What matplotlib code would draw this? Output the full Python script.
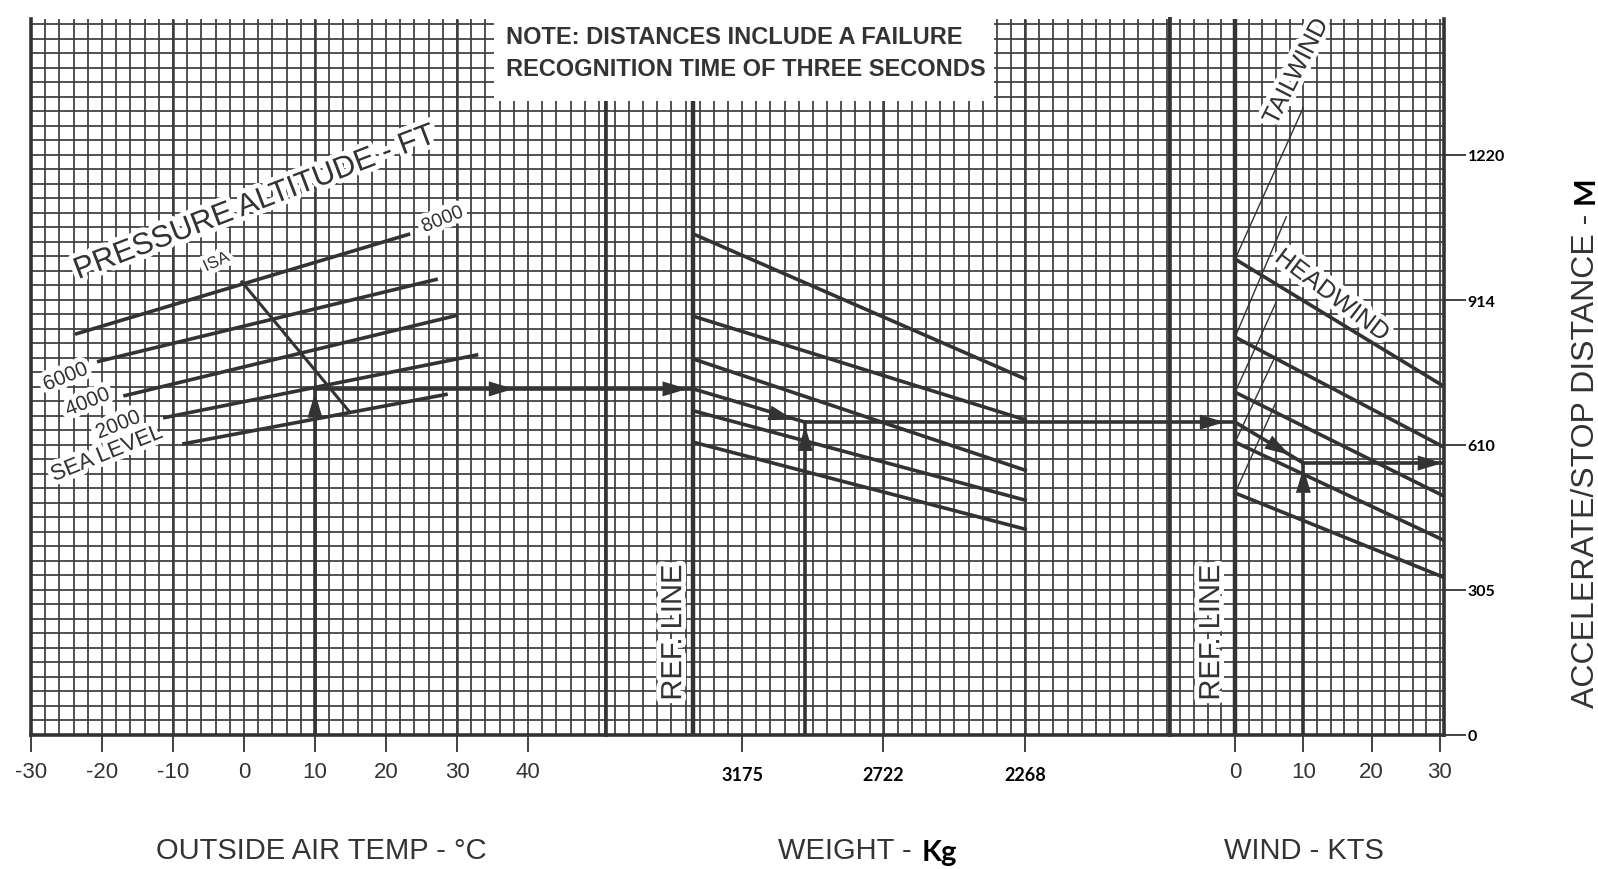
import numpy as np
import matplotlib
matplotlib.use('Agg')
import matplotlib.pyplot as plt
import matplotlib.patheffects as pe
from matplotlib.patches import Rectangle
from matplotlib import font_manager as fm

# ---- chart values ----
temp_ticks = [-30, -20, -10, 0, 10, 20, 30, 40]
weight_ticks = [3175, 2722, 2268]
wind_ticks = [0, 10, 20, 30]
dist_ticks = [0, 305, 610, 914, 1220]

# pressure altitude lines (temp degC -> distance m)
alt_labels = ['8000', '6000', '4000', '2000', 'SEA LEVEL']
alt_t_start = [-23.8, -20.7, -17.0, -11.4, -8.7]
alt_t_end = [23.4, 27.3, 30.1, 33.0, 28.7]
alt_d_start = [843, 785, 713, 667, 612]
alt_d_end = [1054, 959, 883, 800, 717]
isa_temp = [-0.3, 14.9]
isa_dist = [953, 679]

# weight guide lines, from ref line to 2268 kg
ref_weight = 3332
weight_end = 2268
wt_d_ref = [1054, 881, 791, 682, 616]
wt_d_end = [749, 663, 557, 494, 433]

# wind guide lines
head_end = 30.5
head_d_ref = [1001, 837, 721, 616, 509]
head_d_end = [734, 606, 503, 410, 332]
tail_end = [10, 7.5, 6, 6, 6]
tail_d_end = [1320, 1090, 910, 800, 700]

# worked example
ex_temp = 10
ex_dist1 = 728
ex_weight = 2973
ex_dist2 = 658
ex_wind = 10
ex_dist3 = 572

# panel ranges
t_lim = (-30, 51)
w_lim = (3611, 1803)
k_lim = (-9.5, 30.6)
d_top = 1506

ink = '#333333'
grid_c = '#3c3c3c'
names = {f.name for f in fm.fontManager.ttflist}
scan = 'Liberation Sans' if 'Liberation Sans' in names else 'DejaVu Sans'
bold = 'Lato' if 'Lato' in names else 'DejaVu Sans'
plt.rcParams['font.family'] = [scan, 'DejaVu Sans']
halo = [pe.withStroke(linewidth=7, foreground='white')]

W_PX, H_PX = 1598, 870
fig = plt.figure(figsize=(15.98, 8.70), dpi=100)
x0 = 31
bot, top = 736, 20
axes = []
for lim, ppu in [(t_lim, 7.1), (w_lim, 0.312), (k_lim, 6.83)]:
    w = abs(lim[1] - lim[0]) * ppu
    ax = fig.add_axes([x0 / W_PX, (H_PX - bot) / H_PX, w / W_PX, (bot - top) / H_PX])
    ax.set_xlim(*lim)
    ax.set_ylim(0, d_top)
    x0 += w
    axes.append(ax)
ax_t, ax_w, ax_k = axes

d_lines = np.arange(30.5, d_top, 30.5)
grids = [np.arange(-30, 51, 2),
         3175 + 45.36 * np.arange(-30, 10),
         np.arange(-8, 31, 2)]
heavy = [[-10, 10, 30], [2722, 2268], []]
for ax, xs, hv in zip(axes, grids, heavy):
    ax.vlines(xs, 0, d_top, color=grid_c, lw=1.25, zorder=1)
    ax.hlines(d_lines, *ax.get_xlim(), color=grid_c, lw=1.25, zorder=1)
    if hv:
        ax.vlines(hv, 0, d_top, color=grid_c, lw=1.8, zorder=1)
    for s in ['left', 'right', 'bottom']:
        ax.spines[s].set_linewidth(2.6)
        ax.spines[s].set_color(ink)
    ax.spines['top'].set_visible(False)
    ax.set_yticks([])
    ax.tick_params(axis='x', length=12, width=1.3, color=ink, pad=7)

# temperature panel
ax_t.set_xticks(temp_ticks)
ax_t.set_xticklabels([str(v) for v in temp_ticks], fontsize=16, color=ink)
for t0, t1, d0, d1 in zip(alt_t_start, alt_t_end, alt_d_start, alt_d_end):
    ax_t.plot([t0, t1], [d0, d1], color=ink, lw=2.6, zorder=4, solid_capstyle='butt')
ax_t.plot(isa_temp, isa_dist, color=ink, lw=2.2, zorder=4)

ax_t.text(1.5, 1119, 'PRESSURE ALTITUDE - FT', rotation=21, fontsize=22, color=ink,
          ha='center', va='center', path_effects=halo, zorder=3)
ax_t.text(-3.9, 995, 'ISA', rotation=25, fontsize=12, color=ink, ha='center', va='center',
          path_effects=halo, zorder=3)
alt_pos = [(28.0, 1083), (-25.1, 753), (-22.0, 700), (-17.7, 652), (-19.3, 591)]
alt_size = [14, 15, 15, 15, 16]
for lab, (tx, dy), fs in zip(alt_labels, alt_pos, alt_size):
    ax_t.text(tx, dy, lab, rotation=22, fontsize=fs, color=ink, ha='center', va='center',
              path_effects=halo, zorder=3)

# weight panel
ax_w.set_xticks(weight_ticks)
ax_w.set_xticklabels([str(v) for v in weight_ticks], fontsize=13, fontfamily=bold,
                     fontweight='bold', color='black')
ax_w.tick_params(axis='x', pad=10)
for d0, d1 in zip(wt_d_ref, wt_d_end):
    ax_w.plot([ref_weight, weight_end], [d0, d1], color=ink, lw=2.6, zorder=4)
ax_w.axvline(ref_weight, color=ink, lw=3.2, zorder=4)
ax_w.text(3396, 215, 'REF. LINE', rotation=90, fontsize=21, color=ink, ha='center',
          va='center', path_effects=halo, zorder=3)

# wind panel
ax_k.set_xticks(wind_ticks)
ax_k.set_xticklabels([str(v) for v in wind_ticks], fontsize=16, color=ink)
for d0, d1 in zip(head_d_ref, head_d_end):
    ax_k.plot([0, head_end], [d0, d1], color=ink, lw=2.6, zorder=4)
for d0, k1, d1 in zip(head_d_ref, tail_end, tail_d_end):
    ax_k.plot([0, k1], [d0, d1], color=ink, lw=1.0, zorder=4)
ax_k.axvline(0, color=ink, lw=3.2, zorder=4)
ax_k.text(-3.5, 215, 'REF. LINE', rotation=90, fontsize=21, color=ink, ha='center',
          va='center', path_effects=halo, zorder=3)
ax_k.text(8.9, 1395, 'TAILWIND', rotation=63, fontsize=18, color=ink, ha='center',
          va='center', path_effects=halo, zorder=5)
ax_k.text(14.2, 925, 'HEADWIND', rotation=-37, fontsize=18, color=ink, ha='center',
          va='center', path_effects=halo, zorder=5)
ax_k.yaxis.tick_right()
ax_k.set_yticks(dist_ticks)
ax_k.set_yticklabels([str(v) for v in dist_ticks], fontsize=11.5, fontfamily=bold,
                     fontweight='bold', color='black')
ax_k.tick_params(axis='y', length=16, width=1.3, color=ink, pad=1)

# worked example path
def arrow(ax, xa, ya, xb, yb):
    ax.annotate('', xy=(xb, yb), xytext=(xa, ya), zorder=6,
                arrowprops=dict(arrowstyle='-|>,head_length=1.5,head_width=0.45',
                                fc=ink, ec=ink, lw=0, shrinkA=0, shrinkB=0,
                                mutation_scale=12))

lw_p = 2.6
ax_t.plot([ex_temp, ex_temp], [0, ex_dist1], color=ink, lw=lw_p, zorder=5)
ax_t.plot([ex_temp, t_lim[1]], [ex_dist1, ex_dist1], color=ink, lw=lw_p, zorder=5)
arrow(ax_t, ex_temp, ex_dist1 - 80, ex_temp, ex_dist1 - 8)
arrow(ax_t, 33, ex_dist1, 38, ex_dist1)
ax_w.plot([w_lim[0], ref_weight], [ex_dist1, ex_dist1], color=ink, lw=lw_p, zorder=5)
arrow(ax_w, 3440, ex_dist1, 3350, ex_dist1)
ax_w.plot([ref_weight, ex_weight], [ex_dist1, ex_dist2], color=ink, lw=lw_p, zorder=5)
arrow(ax_w, 3090, ex_dist1 - 50, 3010, ex_dist1 - 65)
ax_w.plot([ex_weight, ex_weight], [0, ex_dist2], color=ink, lw=lw_p, zorder=5)
arrow(ax_w, ex_weight, ex_dist2 - 80, ex_weight, ex_dist2 - 8)
ax_w.plot([ex_weight, w_lim[1]], [ex_dist2, ex_dist2], color=ink, lw=lw_p, zorder=5)
ax_k.plot([k_lim[0], 0], [ex_dist2, ex_dist2], color=ink, lw=lw_p, zorder=5)
arrow(ax_k, -6, ex_dist2, -1.5, ex_dist2)
ax_k.plot([0, ex_wind], [ex_dist2, ex_dist3], color=ink, lw=lw_p, zorder=5)
arrow(ax_k, 3.5, ex_dist2 - 30, 8, ex_dist2 - 69)
ax_k.plot([ex_wind, ex_wind], [0, ex_dist3], color=ink, lw=lw_p, zorder=5)
arrow(ax_k, ex_wind, ex_dist3 - 80, ex_wind, ex_dist3 - 10)
ax_k.plot([ex_wind, k_lim[1]], [ex_dist3, ex_dist3], color=ink, lw=lw_p, zorder=5)
arrow(ax_k, 25.5, ex_dist3, 30.4, ex_dist3)

# note box over the top of the grid
fig.add_artist(Rectangle((494 / W_PX, 1 - 102 / H_PX), 500 / W_PX, 102 / H_PX,
                         transform=fig.transFigure, fc='white', ec='none', zorder=10))
fig.text(506 / W_PX, 1 - 38 / H_PX, 'NOTE: DISTANCES INCLUDE A FAILURE', fontsize=17,
         fontweight='bold', color=ink, ha='left', va='center', zorder=11)
fig.text(506 / W_PX, 1 - 70 / H_PX, 'RECOGNITION TIME OF THREE SECONDS', fontsize=17,
         fontweight='bold', color=ink, ha='left', va='center', zorder=11)

# axis titles
fig.text(321 / W_PX, 1 - 851 / H_PX, 'OUTSIDE AIR TEMP - °C', fontsize=21, color=ink,
         ha='center', va='center')
fig.text(920 / W_PX, 1 - 851 / H_PX, 'WEIGHT - ', fontsize=21, color=ink,
         ha='right', va='center')
fig.text(922 / W_PX, 1 - 853 / H_PX, 'Kg', fontsize=21, fontfamily=bold, fontweight='bold',
         color='black', ha='left', va='center')
fig.text(1304 / W_PX, 1 - 851 / H_PX, 'WIND - KTS', fontsize=21, color=ink,
         ha='center', va='center')
fig.text(1586 / W_PX, 1 - 708 / H_PX, 'ACCELERATE/STOP DISTANCE -', rotation=90,
         fontsize=23, color=ink, ha='center', va='bottom')
fig.text(1586 / W_PX, 1 - 176 / H_PX, 'M', rotation=90, fontsize=21, fontfamily=bold,
         fontweight='bold', color='black', ha='center', va='top')

fig.savefig('out.png', dpi=100, facecolor='white')
